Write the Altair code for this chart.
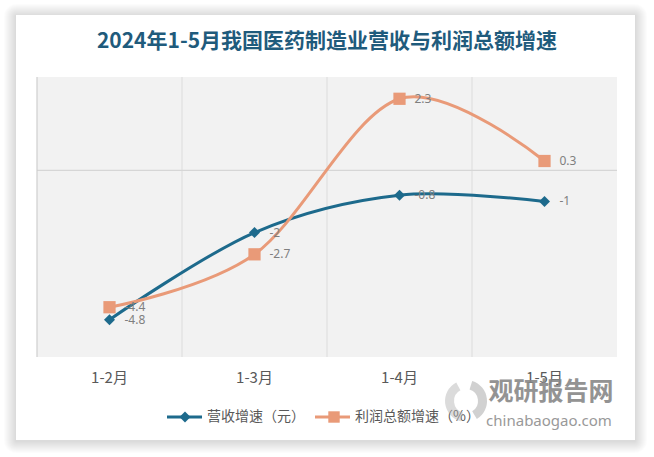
import altair as alt
import pandas as pd

# ---- data ----
months = ["1-2月", "1-3月", "1-4月", "1-5月"]
revenue_growth = [-4.8, -2, -0.8, -1]
profit_growth = [-4.4, -2.7, 2.3, 0.3]
series_names = ["营收增速（元）", "利润总额增速（%）"]
title_text = "2024年1-5月我国医药制造业营收与利润总额增速"
y_domain = [-6, 3]

BLUE = "#1d6a8c"
ORANGE = "#e99a78"
W, H = 580, 280

rows = []
for m, v in zip(months, revenue_growth):
    rows.append({"month": m, "series": series_names[0], "value": v})
for m, v in zip(months, profit_growth):
    rows.append({"month": m, "series": series_names[1], "value": v})
df = pd.DataFrame(rows)
df["label"] = df["value"].map(lambda v: f"{v:g}")

xscale = alt.Scale(type="band", domain=months, paddingInner=0, paddingOuter=0)
yscale = alt.Scale(domain=y_domain, nice=False, zero=False)
cscale = alt.Scale(domain=series_names, range=[BLUE, ORANGE])

one = pd.DataFrame({"k": [0]})
base_one = alt.Chart(one)

# ---- card with soft shadow ----
shadows = []
for k in range(1, 13):
    shadows.append(
        base_one.mark_rect(fill="#000000", opacity=0.012, cornerRadius=k).encode(
            x=alt.value(-21 - k), x2=alt.value(598 + k),
            y=alt.value(-62 - k + 1), y2=alt.value(363 + k + 1),
        )
    )
card = base_one.mark_rect(fill="white").encode(
    x=alt.value(-21), x2=alt.value(598), y=alt.value(-62), y2=alt.value(363)
)
plot_bg = base_one.mark_rect(fill="#f2f2f2").encode(
    x=alt.value(0), x2=alt.value(W), y=alt.value(0), y2=alt.value(H)
)

# ---- grid ----
vgrid = alt.Chart(pd.DataFrame({"month": months[1:]})).mark_rule(
    color="#dcdcdc", strokeWidth=1
).encode(x=alt.X("month:N", scale=xscale, axis=None, bandPosition=0))
zero_line = base_one.mark_rule(color="#d6d6d6", strokeWidth=1.2).encode(
    y=alt.datum(0, scale=yscale, axis=None)
)
left_line = base_one.mark_rule(color="#cfcfcf", strokeWidth=1.2).encode(
    x=alt.value(0), y=alt.value(0), y2=alt.value(H)
)

# ---- data marks ----
xenc = alt.X("month:N", scale=xscale, axis=None, bandPosition=0.5, sort=months)
yenc = alt.Y("value:Q", scale=yscale, axis=None)
cenc = alt.Color("series:N", scale=cscale, legend=None)

lines = alt.Chart(df).mark_line(strokeWidth=3, interpolate="cardinal").encode(
    x=xenc, y=yenc, color=cenc, detail="series:N"
)
pts_rev = alt.Chart(df[df.series == series_names[0]]).mark_point(
    shape="diamond", filled=True, opacity=1, size=120, color=BLUE
).encode(x=xenc, y=yenc)
pts_pro = alt.Chart(df[df.series == series_names[1]]).mark_point(
    shape="square", filled=True, opacity=1, size=150, color=ORANGE
).encode(x=xenc, y=yenc)
labels = alt.Chart(df).mark_text(
    align="left", baseline="middle", dx=15, fontSize=12, color="#7f7f7f",
    font="Noto Sans"
).encode(x=xenc, y=yenc, text="label:N")

# ---- x labels ----
xlabels = alt.Chart(pd.DataFrame({"month": months})).mark_text(
    baseline="middle", fontSize=15, color="#595959", font="Noto Sans CJK SC"
).encode(x=xenc, y=alt.value(301), text="month:N")

# ---- legend ----
leg_y = 340
leg = [
    base_one.mark_rule(color=BLUE, strokeWidth=3).encode(
        x=alt.value(130), x2=alt.value(165), y=alt.value(leg_y)),
    base_one.mark_point(shape="diamond", filled=True, opacity=1, size=120, color=BLUE).encode(
        x=alt.value(148), y=alt.value(leg_y)),
    base_one.mark_text(align="left", baseline="middle", fontSize=14, color="#595959",
                       font="Noto Sans CJK SC", text=series_names[0]).encode(
        x=alt.value(170), y=alt.value(leg_y)),
    base_one.mark_rule(color=ORANGE, strokeWidth=3).encode(
        x=alt.value(278), x2=alt.value(313), y=alt.value(leg_y)),
    base_one.mark_point(shape="square", filled=True, opacity=1, size=130, color=ORANGE).encode(
        x=alt.value(297), y=alt.value(leg_y)),
    base_one.mark_text(align="left", baseline="middle", fontSize=14, color="#595959",
                       font="Noto Sans CJK SC", text=series_names[1]).encode(
        x=alt.value(318), y=alt.value(leg_y)),
]

# ---- watermark ----
wm = [
    base_one.mark_arc(radius=21, radius2=12, theta=0.3, theta2=2.6, color="#9a9a9a", opacity=0.45).encode(
        x=alt.value(429), y=alt.value(324)),
    base_one.mark_arc(radius=21, radius2=12, theta=3.4, theta2=5.8, color="#b0b0b0", opacity=0.45).encode(
        x=alt.value(429), y=alt.value(324)),
    base_one.mark_text(fontSize=25, fontWeight="bold", color="#888888", opacity=0.9,
                       font="Noto Sans CJK SC", text="观研报告网", baseline="middle").encode(
        x=alt.value(514), y=alt.value(315)),
    base_one.mark_text(fontSize=15, color="#999999", font="Noto Sans",
                       text="chinabaogao.com", baseline="middle").encode(
        x=alt.value(512), y=alt.value(344)),
]

# ---- title ----
title = base_one.mark_text(
    fontSize=21, fontWeight="bold", color="#1f5b7c", font="Noto Sans CJK SC",
    text=title_text, baseline="middle"
).encode(x=alt.value(W / 2), y=alt.value(-35))

chart = alt.layer(
    *shadows, card, plot_bg, vgrid, zero_line, left_line,
    lines, pts_rev, pts_pro, labels, xlabels, *leg, *wm, title
).properties(
    width=W, height=H,
    autosize=alt.AutoSizeParams(type="none"),
    padding={"left": 37, "top": 77, "right": 37, "bottom": 100},
    background="white",
).configure_view(stroke=None)

chart.save("out.html", embed_options={"renderer": "svg", "actions": False})
